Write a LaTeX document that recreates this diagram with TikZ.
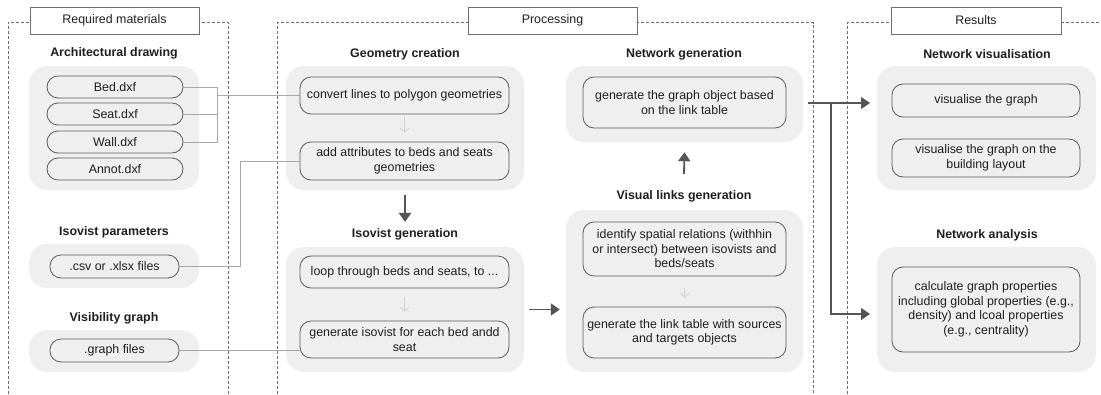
\documentclass[tikz,border=0pt]{standalone}
\usepackage{fontspec}
\setmainfont{Liberation Sans}
\usetikzlibrary{arrows.meta,calc}
\definecolor{grpc}{HTML}{EFEFEF}
\definecolor{boxc}{HTML}{5A5A5A}
\definecolor{hdrc}{HTML}{6E6E6E}
\definecolor{dashc}{HTML}{6A6A6A}
\definecolor{connc}{HTML}{A8A8A8}
\definecolor{lightarr}{HTML}{CFCFCF}
\definecolor{bigarr}{HTML}{555555}
\definecolor{txt}{HTML}{1E1E1E}
\begin{document}
\begin{tikzpicture}[x=1pt,y=-1pt,
  font=\fontsize{12.4}{14.5}\selectfont, text=txt,
  grp/.style={fill=grpc, draw=none, rounded corners=18pt, inner sep=0pt},
  box/.style={draw=boxc, line width=0.8pt, rounded corners=11pt, align=center, inner sep=0pt},
  hdr/.style={draw=hdrc, line width=0.8pt, fill=white, minimum height=27, minimum width=169, inner sep=0pt},
  ttl/.style={font=\fontsize{12.4}{14.5}\selectfont\bfseries, inner sep=0pt},
  frame/.style={draw=dashc, line width=0.6pt, dash pattern=on 3pt off 2pt},
  conn/.style={draw=connc, line width=0.8pt},
  lightarrow/.style={draw=lightarr, line width=0.8pt, -{Straight Barb[length=4pt,width=9pt]}},
  bigarrow/.style={draw=bigarr, line width=1.8pt, -{Triangle[length=9pt,width=12pt]}}
]
\path[use as bounding box, fill=white] (0,0) rectangle (1101,394);

% frames
\draw[frame] (8,394) -- (8,22.5) -- (228,22.5) -- (228,394);
\draw[frame] (277,394) -- (277,22.5) -- (813,22.5) -- (813,394);
\draw[frame] (847,394) -- (847,22.5) -- (1101,22.5);

% headers
\node[hdr] (h1) at (114.5,20.5) {Required materials};
\node[hdr] (h2) at (552.5,20.5) {Processing};
\node[hdr, minimum width=170] (h3) at (976,20.5) {Results};

% groups
\node[grp, minimum width=170, minimum height=124] (garch) at (114,128) {};
\node[grp, minimum width=170, minimum height=44] (giso) at (114,266) {};
\node[grp, minimum width=170, minimum height=42] (gvis) at (114,351) {};
\node[grp, minimum width=238, minimum height=124] (ggeo) at (405,128) {};
\node[grp, minimum width=238, minimum height=125] (gisogen) at (405,309.5) {};
\node[grp, minimum width=237, minimum height=76] (gnetgen) at (684.5,104) {};
\node[grp, minimum width=237, minimum height=162] (gvlinks) at (684.5,291) {};
\node[grp, minimum width=219, minimum height=124] (gnetvis) at (986.5,128) {};
\node[grp, minimum width=219, minimum height=125] (gneta) at (986.5,309.5) {};

% titles
\node[ttl] (tarch) at (114,53) {Architectural drawing};
\node[ttl] (tiso) at (114,232) {Isovist parameters};
\node[ttl] (tvis) at (114,318) {Visibility graph};
\node[ttl] (tgeo) at (405,54) {Geometry creation};
\node[ttl] (tisogen) at (405,234) {Isovist generation};
\node[ttl] (tnetgen) at (684,54) {Network generation};
\node[ttl] (tvlinks) at (684,196) {Visual links generation};
\node[ttl] (tnetvis) at (987,54) {Network visualisation};
\node[ttl] (tneta) at (987,235) {Network analysis};

% boxes
\node[box, minimum width=136, minimum height=22] (bed) at (115,87) {Bed.dxf};
\node[box, minimum width=136, minimum height=22] (seat) at (115,114) {Seat.dxf};
\node[box, minimum width=136, minimum height=22] (wall) at (115,142) {Wall.dxf};
\node[box, minimum width=136, minimum height=22] (annot) at (115,169) {Annot.dxf};
\node[box, minimum width=129, minimum height=23] (csv) at (114.5,266.5) {.csv or .xlsx files};
\node[box, minimum width=129, minimum height=23] (graph) at (114.5,350.5) {.graph files};

\node[box, minimum width=209, minimum height=37] (convert) at (404.5,95.5) {convert lines to polygon geometries};
\node[box, minimum width=209, minimum height=38] (addattr) at (404.5,161) {add attributes to beds and seats\\geometries};
\node[box, minimum width=209, minimum height=32] (loop) at (404.5,272) {loop through beds and seats, to ...};
\node[box, minimum width=209, minimum height=37] (genisov) at (404.5,339.5) {generate isovist for each bed andd\\seat};

\node[box, minimum width=203, minimum height=51] (gengraph) at (684.5,102.5) {generate the graph object based\\on the link table};
\node[box, minimum width=203, minimum height=54] (identify) at (684.5,249) {identify spatial relations (withhin\\or intersect) between isovists and\\beds/seats};
\node[box, minimum width=203, minimum height=51] (linktable) at (684.5,332.5) {generate the link table with sources\\and targets objects};

\node[box, minimum width=188, minimum height=33] (visgraph) at (986,100.5) {visualise the graph};
\node[box, minimum width=188, minimum height=38] (vislayout) at (986,158) {visualise the graph on the\\building layout};
\node[box, minimum width=188, minimum height=85] (calc) at (986,309.5) {calculate graph properties\\including global properties (e.g.,\\density) and lcoal properties\\(e.g., centrality)};

% thin connectors
\draw[conn] (bed.east) -| ($(wall.east)+(34,0)$) -- (wall.east);
\draw[conn] (seat.east) -- ++(34,0);
\draw[conn] (convert.west) -- ($(convert.west -| wall.east)+(34,0)$);
\draw[conn] (csv.east) -| ($(addattr.west)+(-59,0)$) -- (addattr.west);
\draw[conn] (graph.east) -- (graph.east -| genisov.west);

% light arrows inside groups
\draw[lightarrow] ([yshift=-3]convert.south) -- ([yshift=9]addattr.north);
\draw[lightarrow] ([yshift=-9]loop.south) -- ([yshift=9]genisov.north);
\draw[lightarrow] ([yshift=-12]identify.south) -- ([yshift=9]linktable.north);

% big arrows
\draw[bigarrow] ([yshift=-5]ggeo.south) -- ([yshift=6]tisogen.north);
\draw[bigarrow] ([yshift=16]tvlinks.north) -- ([yshift=-10]gnetgen.south);
\draw[bigarrow, shorten <=5pt, shorten >=6pt] (gisogen.east) -- (gisogen.east -| gvlinks.west);

\coordinate (jn) at (831,103);
\coordinate (t1) at (870,103);
\coordinate (t2) at (870,314);
\draw[draw=bigarr, line width=1.2pt] ([xshift=5]gnetgen.east |- jn) -- (jn);
\draw[draw=bigarr, line width=1.2pt, -{Triangle[length=9pt,width=12pt]}] (jn) -- (t1);
\draw[draw=bigarr, line width=1.2pt, -{Triangle[length=9pt,width=12pt]}] (jn) |- (t2);
\end{tikzpicture}
\end{document}
